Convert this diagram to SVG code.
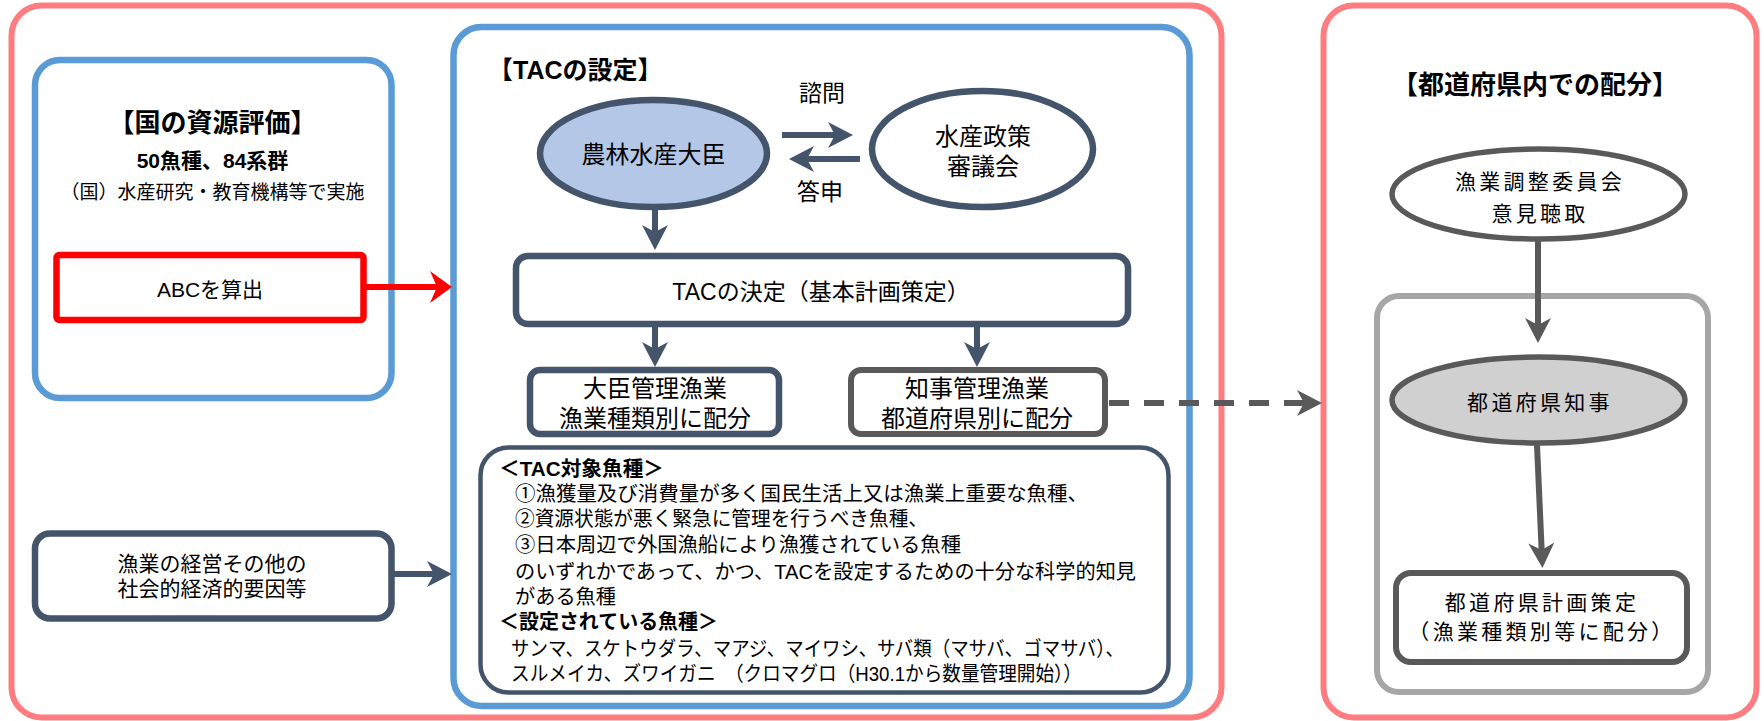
<svg xmlns="http://www.w3.org/2000/svg" width="1764" height="721" viewBox="0 0 1764 721">
<style>
.t{font-family:"Liberation Sans","Noto Sans CJK JP",sans-serif;fill:#000;}
.b{font-weight:bold;}
.m{text-anchor:middle;}
.pink{fill:none;stroke:#ff7c80;stroke-width:6;}
.blue{fill:none;stroke:#5b9bd5;stroke-width:6.5;}
.dark{fill:#fff;stroke:#44546a;stroke-width:6.5;}
.gray{fill:#fff;stroke:#595959;stroke-width:6;}
.rs{font-size:21px;letter-spacing:3.3px;}
</style>
<defs>
<marker id="arrD" markerUnits="userSpaceOnUse" markerWidth="28" markerHeight="30" viewBox="-16 -15 28 30" refX="0" refY="0" orient="auto"><path d="M10,0 L-15,-13 L-8,0 L-15,13 Z" fill="#44546a"/></marker>
<marker id="arrR" markerUnits="userSpaceOnUse" markerWidth="28" markerHeight="36" viewBox="-16 -18 28 36" refX="0" refY="0" orient="auto"><path d="M10,0 L-12,-16 L-5,0 L-12,16 Z" fill="#ff0000"/></marker>
<marker id="arrG" markerUnits="userSpaceOnUse" markerWidth="28" markerHeight="30" viewBox="-16 -15 28 30" refX="0" refY="0" orient="auto"><path d="M10,0 L-15,-13 L-8,0 L-15,13 Z" fill="#595959"/></marker>
</defs>

<!-- panels -->
<g id="panel-national">
<rect class="pink" x="11.5" y="5.5" width="1210" height="712" rx="30"/>
</g>
<g id="panel-prefecture">
<rect class="pink" x="1323.5" y="5.5" width="433" height="712" rx="30"/>
<text class="t b m" x="1535" y="94" font-size="26">【都道府県内での配分】</text>
</g>

<g id="resource-assessment">
<rect class="blue" x="35" y="60" width="356.5" height="338" rx="25"/>
<text class="t m" x="212.5" y="132"><tspan class="b" x="212.5" y="132" font-size="26">【国の資源評価】</tspan><tspan class="b" x="212.5" y="168" font-size="21">50魚種、84系群</tspan><tspan x="212.5" y="199" font-size="19">（国）水産研究・教育機構等で実施</tspan></text>
</g>
<g id="abc">
<rect x="56.5" y="255" width="307" height="65" rx="3" fill="#fff" stroke="#ff0000" stroke-width="6.5"/>
<text class="t m" x="210" y="297" font-size="21">ABCを算出</text>
</g>
<g id="socioeconomic">
<rect class="dark" x="35" y="533.5" width="356.5" height="85" rx="15"/>
<text class="t m" font-size="21"><tspan x="212" y="571">漁業の経営その他の</tspan><tspan x="212" y="596">社会的経済的要因等</tspan></text>
</g>

<g id="tac-setting">
<rect class="blue" x="453.5" y="27" width="736" height="679" rx="28"/>
<text class="t b" x="488" y="79" font-size="25">【TACの設定】</text>
</g>
<g id="minister">
<ellipse cx="653.5" cy="153.5" rx="113.5" ry="53.5" fill="#b4c7e7" stroke="#44546a" stroke-width="6.5"/>
<text class="t m" x="653.5" y="163" font-size="24">農林水産大臣</text>
</g>
<g id="council">
<ellipse cx="982.5" cy="149" rx="110.5" ry="58" fill="#fff" stroke="#44546a" stroke-width="6.5"/>
<text class="t m" font-size="24"><tspan x="983" y="145">水産政策</tspan><tspan x="983" y="175">審議会</tspan></text>
</g>
<g id="tac-decision">
<rect class="dark" x="516" y="256" width="612" height="68" rx="12"/>
<text class="t m" x="821" y="300" font-size="23">TACの決定（基本計画策定）</text>
</g>
<g id="minister-fisheries">
<rect class="dark" x="530" y="370" width="249" height="64" rx="10"/>
<text class="t m" font-size="24"><tspan x="655" y="397">大臣管理漁業</tspan><tspan x="655" y="427">漁業種類別に配分</tspan></text>
</g>
<g id="governor-fisheries">
<rect class="gray" x="851" y="370" width="254" height="64" rx="10"/>
<text class="t m" font-size="24"><tspan x="977" y="397">知事管理漁業</tspan><tspan x="977" y="427">都道府県別に配分</tspan></text>
</g>
<g id="tac-species">
<rect x="480.5" y="447.5" width="688" height="245" rx="28" fill="#fff" stroke="#44546a" stroke-width="4.5"/>
<text class="t" font-size="20.5"><tspan class="b" x="499" y="476" textLength="165" lengthAdjust="spacingAndGlyphs">＜TAC対象魚種＞</tspan><tspan x="515" y="501" textLength="573" lengthAdjust="spacingAndGlyphs">①漁獲量及び消費量が多く国民生活上又は漁業上重要な魚種、</tspan><tspan x="515" y="526" textLength="413" lengthAdjust="spacingAndGlyphs">②資源状態が悪く緊急に管理を行うべき魚種、</tspan><tspan x="515" y="552" textLength="446" lengthAdjust="spacingAndGlyphs">③日本周辺で外国漁船により漁獲されている魚種</tspan><tspan x="515" y="579" textLength="621" lengthAdjust="spacingAndGlyphs">のいずれかであって、かつ、TACを設定するための十分な科学的知見</tspan><tspan x="515" y="604" textLength="101" lengthAdjust="spacingAndGlyphs">がある魚種</tspan><tspan class="b" x="499" y="629" textLength="219" lengthAdjust="spacingAndGlyphs">＜設定されている魚種＞</tspan><tspan x="511" y="656" textLength="613" lengthAdjust="spacingAndGlyphs">サンマ、スケトウダラ、マアジ、マイワシ、サバ類（マサバ、ゴマサバ）、</tspan><tspan x="511" y="681" textLength="571" lengthAdjust="spacingAndGlyphs">スルメイカ、ズワイガニ　（クロマグロ（H30.1から数量管理開始））</tspan></text>
</g>

<g id="adjustment-committee">
<ellipse cx="1538.5" cy="194" rx="146.5" ry="45" fill="#fff" stroke="#595959" stroke-width="5.5"/>
<text class="t m rs"><tspan x="1540" y="189">漁業調整委員会</tspan><tspan x="1540" y="221">意見聴取</tspan></text>
</g>
<g id="prefecture-frame">
<rect x="1377" y="296" width="331" height="396" rx="22" fill="none" stroke="#a6a6a6" stroke-width="6"/>
</g>
<g id="governor">
<ellipse cx="1538.5" cy="400" rx="146.5" ry="43" fill="#d0d0d0" stroke="#595959" stroke-width="5.5"/>
<text class="t m rs" x="1540" y="410">都道府県知事</text>
</g>
<g id="prefecture-plan">
<rect class="gray" x="1396" y="573" width="291" height="89" rx="15"/>
<text class="t m rs"><tspan x="1542" y="610">都道府県計画策定</tspan><tspan x="1542" y="639">（漁業種類別等に配分）</tspan></text>
</g>

<g id="connectors" fill="none">
<line x1="366" y1="287" x2="442" y2="287" stroke="#ff0000" stroke-width="6" marker-end="url(#arrR)"/>
<line x1="394" y1="574" x2="442" y2="574" stroke="#44546a" stroke-width="6" marker-end="url(#arrD)"/>
<line x1="782" y1="135" x2="843" y2="135" stroke="#44546a" stroke-width="6" marker-end="url(#arrD)"/>
<text class="t m" x="822" y="101" font-size="23" stroke="none">諮問</text>
<line x1="860" y1="159" x2="799" y2="159" stroke="#44546a" stroke-width="6" marker-end="url(#arrD)"/>
<text class="t m" x="820" y="200" font-size="23" stroke="none">答申</text>
<line x1="655" y1="208" x2="655" y2="240" stroke="#44546a" stroke-width="6" marker-end="url(#arrD)"/>
<line x1="655" y1="326" x2="655" y2="357" stroke="#44546a" stroke-width="6" marker-end="url(#arrD)"/>
<line x1="977" y1="326" x2="977" y2="357" stroke="#44546a" stroke-width="6" marker-end="url(#arrD)"/>
<line x1="1109" y1="403" x2="1312" y2="403" stroke="#595959" stroke-width="6" stroke-dasharray="20 15" marker-end="url(#arrG)"/>
<line x1="1538" y1="241" x2="1538" y2="333" stroke="#595959" stroke-width="6" marker-end="url(#arrG)"/>
<line x1="1537" y1="445" x2="1542" y2="558" stroke="#595959" stroke-width="6" marker-end="url(#arrG)"/>
</g>
</svg>
